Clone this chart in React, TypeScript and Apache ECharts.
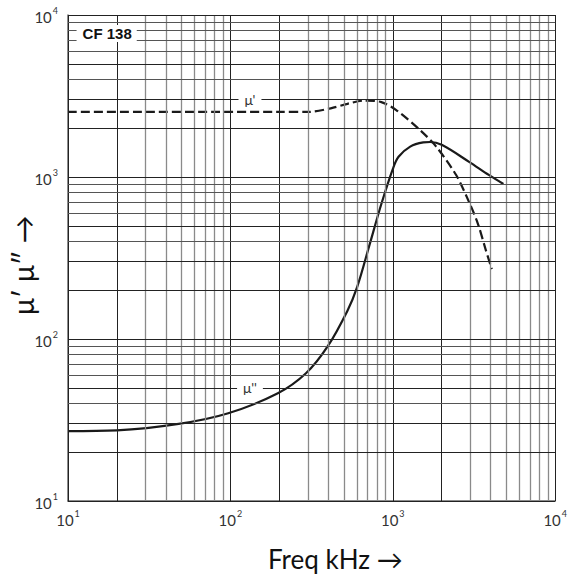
import React, { useEffect, useRef } from "react";
import * as echarts from "echarts";

// μ' (dashed) – frequency in kHz and permeability
const freqMu1 = [10, 200, 300, 415, 525, 665, 850, 1050, 1470, 1850, 2455, 2950, 3335, 3740, 4070];
const mu1 = [2520, 2520, 2520, 2655, 2830, 2960, 2900, 2590, 1950, 1540, 1028, 700, 518, 354, 270];

// μ'' (solid)
const freqMu2 = [10, 20, 48, 97, 196, 292, 396, 525, 603, 721, 850, 1000, 1085, 1280, 1540, 1700, 2000, 2950, 3900, 4800];
const mu2 = [27, 27.3, 29.9, 34.8, 46.2, 61.4, 89.6, 149, 209, 385, 681, 1120, 1333, 1540, 1635, 1645, 1580, 1240, 1030, 906];

// grid line values (per decade multiples)
const decades = [10, 100, 1000];
const multiples = [1, 2, 3, 4, 5, 6, 7, 8, 9];
const tickValues = [10, 100, 1000, 10000];

const FONT = "Lato";

export default function App() {
  const ref = useRef<HTMLDivElement>(null);
  useEffect(() => {
    if (!ref.current) return;
    document.body.style.margin = "0";
    const chart = echarts.init(ref.current, undefined, { renderer: "svg" });

    const gridVals: number[] = [];
    decades.forEach((d) => multiples.forEach((m) => gridVals.push(d * m)));
    gridVals.push(10000);

    const mult = (v: number) => Math.round(v / Math.pow(10, Math.floor(Math.log10(v) + 1e-9)));
    const vLines = gridVals.map((v) => {
      const m = mult(v);
      const dark = m === 1 || m === 2;
      return {
        xAxis: v,
        lineStyle: { color: dark ? "#222" : "#8a8a8a", width: dark ? 1 : 1.3, type: "solid" },
      };
    });
    const hLines = gridVals.map((v) => {
      const m = mult(v);
      const dark = m === 1 || m === 2 || m === 3 || m === 5;
      return {
        yAxis: v,
        lineStyle: { color: dark ? "#222" : "#555", width: 1, type: "solid" },
      };
    });

    const labelFmt = (v: number) => {
      const e = Math.round(Math.log10(v));
      return `{b|10}{s|${e}}`;
    };
    const rich = {
      b: { fontSize: 15, fontFamily: FONT, color: "#333", lineHeight: 18, verticalAlign: "bottom" },
      s: { fontSize: 9, fontFamily: FONT, color: "#333", verticalAlign: "top", lineHeight: 18, padding: [0, 0, 0, 1] },
    };

    chart.setOption({
      animation: false,
      backgroundColor: "#fff",
      grid: { left: 68, top: 15, width: 492, height: 486 },
      xAxis: {
        type: "log",
        logBase: 10,
        min: 10,
        max: 10000,
        axisLine: { show: true, lineStyle: { color: "#666", width: 1.5 } },
        axisTick: { show: false },
        splitLine: { show: false },
        axisLabel: {
          formatter: labelFmt,
          rich,
          margin: 8,
          showMinLabel: true,
          showMaxLabel: true,
          customValues: tickValues,
        },
      },
      yAxis: {
        type: "log",
        logBase: 10,
        min: 10,
        max: 10000,
        axisLine: { show: true, lineStyle: { color: "#666", width: 1.5 } },
        axisTick: { show: false },
        splitLine: { show: false },
        axisLabel: {
          formatter: labelFmt,
          rich,
          margin: 10,
          showMinLabel: true,
          showMaxLabel: true,
          customValues: tickValues,
        },
      },
      graphic: [
        {
          type: "text",
          left: 268,
          top: 546,
          style: { text: "Freq kHz \u2192", fontSize: 26, fontFamily: FONT, fill: "#111" },
        },
        {
          type: "text",
          x: 9,
          y: 315,
          rotation: Math.PI / 2,
          style: { text: "\u03bc\u2032 \u03bc\u2033 \u2192", fontSize: 28, fontFamily: FONT, fill: "#111", textVerticalAlign: "top" },
        },
      ],
      series: [
        {
          type: "line",
          data: [],
          silent: true,
          z: 1,
          markLine: {
            silent: true,
            symbol: ["none", "none"],
            label: { show: false },
            emphasis: { disabled: true },
            data: [...vLines, ...hLines],
          },
        },
        {
          name: "mu1",
          type: "line",
          data: freqMu1.map((f, i) => [f, mu1[i]]),
          showSymbol: false,
          smooth: 0.3,
          z: 3,
          lineStyle: { color: "#1a1a1a", width: 2.2, type: [9, 4] },
          markPoint: {
            symbol: "circle",
            symbolSize: 0,
            silent: true,
            data: [
              {
                coord: [132, 3000],
                label: {
                  show: true,
                  position: "inside",
                  formatter: "\u03bc'",
                  fontSize: 14,
                  fontFamily: FONT,
                  color: "#333",
                  backgroundColor: "#fff",
                  padding: [1, 6, 1, 6],
                },
              },
              {
                coord: [17.3, 7700],
                label: {
                  show: true,
                  position: "inside",
                  formatter: "CF 138",
                  fontSize: 15,
                  fontWeight: "bold",
                  fontFamily: "Liberation Sans",
                  color: "#111",
                  backgroundColor: "#fff",
                  padding: [1, 5, 1, 6],
                },
              },
            ],
          },
        },
        {
          name: "mu2",
          type: "line",
          data: freqMu2.map((f, i) => [f, mu2[i]]),
          showSymbol: false,
          smooth: 0.35,
          z: 3,
          lineStyle: { color: "#1a1a1a", width: 2.2 },
          markPoint: {
            symbol: "circle",
            symbolSize: 0,
            silent: true,
            data: [
              {
                coord: [132, 50],
                label: {
                  show: true,
                  position: "inside",
                  formatter: "\u03bc''",
                  fontSize: 14,
                  fontFamily: FONT,
                  color: "#333",
                  backgroundColor: "#fff",
                  padding: [1, 6, 1, 6],
                },
              },
            ],
          },
        },
      ],
    });
    return () => chart.dispose();
  }, []);
  return <div ref={ref} style={{ width: 570, height: 578 }} />;
}
